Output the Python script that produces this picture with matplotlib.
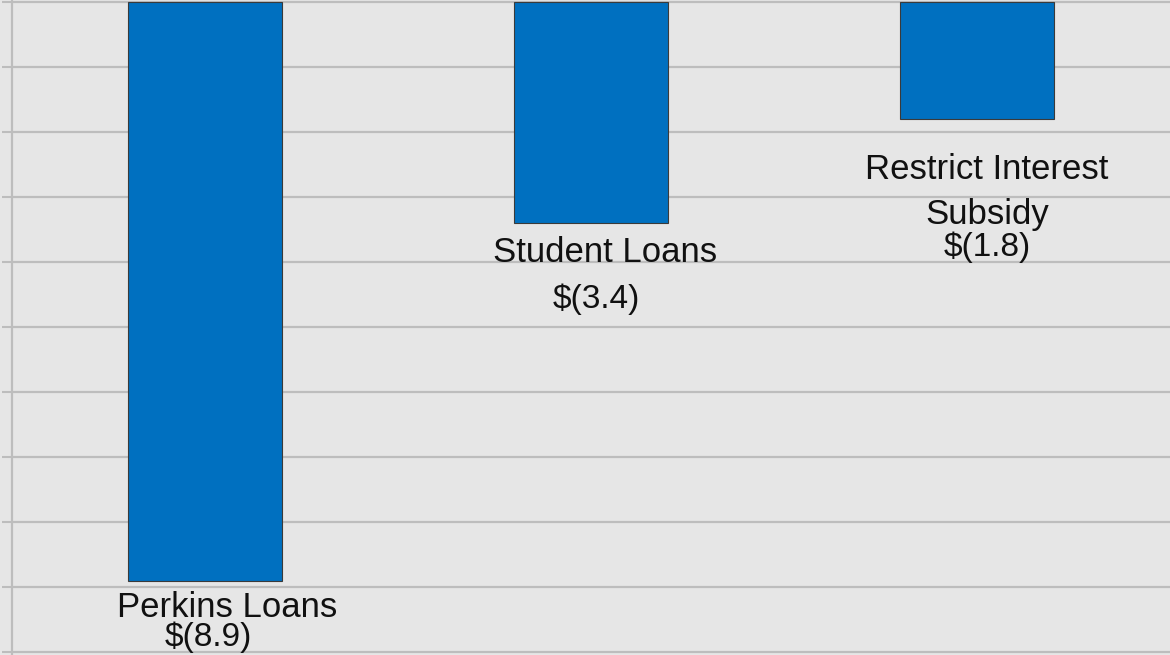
import matplotlib
matplotlib.use("Agg")
import matplotlib.pyplot as plt
import numpy as np

plt.rcParams['font.family'] = ['Liberation Sans', 'DejaVu Sans']

# savings by proposal, $ billions (shown as negatives)
names = ['Perkins Loans', 'Student Loans', 'Restrict Interest\nSubsidy']
values = [-8.9, -3.4, -1.8]
value_labels = ['$(8.9)', '$(3.4)', '$(1.8)']

# label offsets from each bar end (pixels): (dx, dy) for name, value
name_off = [(22, -27), (14, -29), (10, -73)]
value_off = [(3, -57), (5, -76), (10, -128)]

fig = plt.figure(figsize=(11.7, 6.55), dpi=100)
fig.patch.set_facecolor('#e6e6e6')
ax = fig.add_axes([12 / 1170, 0, 1 - 12 / 1170, 1])
ax.set_facecolor('#e6e6e6')

x = np.arange(len(names))
ax.bar(x, values, width=0.40, color='#0070c0', edgecolor='#3a3a3a', linewidth=0.8, zorder=3)

for xi, v, n, lab, no, vo in zip(x, values, names, value_labels, name_off, value_off):
    ax.annotate(n, (xi, v), xytext=no, textcoords='offset pixels',
                ha='center', va='center', fontsize=25, color='#111111',
                linespacing=1.45, zorder=4)
    ax.annotate(lab, (xi, v), xytext=vo, textcoords='offset pixels',
                ha='center', va='center', fontsize=24, color='#111111', zorder=4)

ax.set_xlim(-0.5, 2.5)
ax.set_ylim(-10.046, 0.031)
ax.set_yticks(np.arange(-10, 1, 1))
ax.set_yticklabels([])
ax.set_xticks([])
ax.tick_params(axis='y', length=7, width=1.5, color='#bdbdbd', direction='out')
ax.grid(axis='y', color='#bdbdbd', linewidth=1.6, zorder=0)
for s in ['top', 'right', 'bottom']:
    ax.spines[s].set_visible(False)
ax.spines['left'].set_color('#bdbdbd')
ax.spines['left'].set_linewidth(1.6)

fig.savefig('out.png', dpi=100, facecolor=fig.get_facecolor())
